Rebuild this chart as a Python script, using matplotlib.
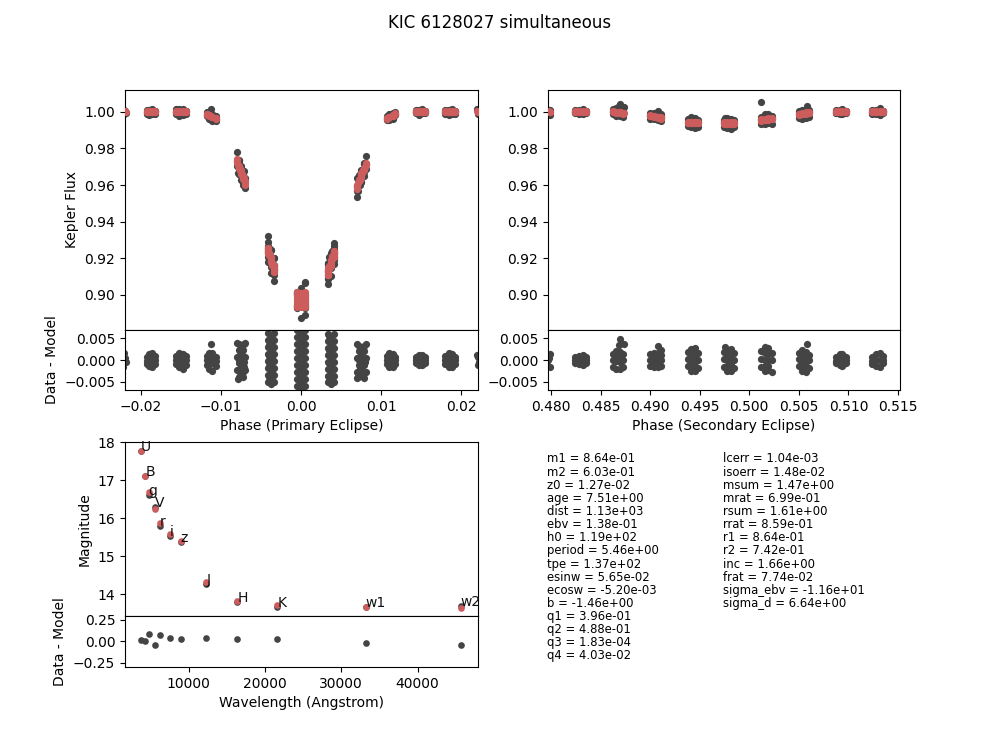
import numpy as np
import matplotlib
matplotlib.use('Agg')
import matplotlib.pyplot as plt

DARK = '#444444'
RED = '#cd5c5c'
MS = 5.2
MS_SED = 4.8

#######
# PRIMARY ECLIPSE - one row per orbit cycle position
#######
primary_phase = [
    -.0228, -.0224, -.0220, -.0222, -.0226, -.0219, -.0221,
    -.0193, -.0193, -.0193, -.0190, -.0190, -.0190, -.0190, -.0186, -.0186, -.0186, -.0186, -.0182, -.0182, -.0182,
    -.0156, -.0156, -.0156, -.0152, -.0152, -.0152, -.0152, -.0148, -.0148, -.0148, -.0148, -.0144, -.0144, -.0144,
    -.0118, -.0118, -.0118, -.0115, -.0115, -.0115, -.0115, -.0113, -.0111, -.0111, -.0111, -.0111, -.0106, -.0106, -.0106,
    -.0080, -.0070, -.0075, -.00775, -.00725, -.0075, -.0080, -.0070, -.0078, -.00775, -.00725, -.0072, -.0080, -.0070, -.0075, -.00775, -.00725, -.0079,
    -.0042, -.0034, -.0038, -.0042, -.0034, -.0038, -.0042, -.0034, -.0038, -.0042, -.0034, -.0038,
    -.0042, -.0034, -.0038, -.0042, -.0034, -.0038, -.0042, -.0034, -.0038, -.0042, -.0034, -.0038,
    -.0005, .0005, 0, -.0005, .0005, 0, -.0005, .0005, 0, -.0005, .0005, 0, -.0005, .0005, 0,
    -.0005, .0005, 0, -.0005, .0005, 0, -.0005, .0005, 0, -.0005, .0005, 0,
    .0033, .00415, .0037, .0033, .00415, .0037, .0033, .00415, .0037, .0033, .00415, .0037,
    .0033, .00415, .0037, .0033, .00415, .0037, .0033, .00415, .0037, .0033, .00415, .0037,
    .0081, .0069, .0075, .0078, .0072, .0075, .0081, .0069, .0079, .0078, .0072, .0073, .0081, .0069, .0075, .0078, .0069, .0071,
    .0107, .0107, .0107, .0110, .0110, .0110, .0110, .0114, .0114, .0114, .0114, .0117, .0117, .0117,
    .0143, .0143, .0143, .0147, .0147, .0147, .0147, .0151, .0151, .0151, .0151, .0155, .0155, .0155,
    .0180, .0180, .0180, .0184, .0184, .0184, .0184, .0188, .0188, .0188, .0188, .0192, .0192, .0192,
    .0219, .0221, .0223, .0225, .0220, .0222, .0226,
    -.0078, -.0072, -.0076, -.0074, -.0078, -.0072, -.0074, -.0076, -.0077, -.0073,
    .0072, .0078, .0074, .0076, .0072, .0078, .0076, .0074, .0073, .0077,
    -.0040, -.0036, -.0040, -.0036, -.0040, -.0036, -.0040, -.0036,
    .0035, .0039, .0035, .0039, .0035, .0039, .0035, .0039,
]
primary_model = [
    1.0003, .9998, 1.0003, .9997, 1.0, 1.0, .9997,
    1.0004, .9998, 1.0, .9998, 1.0004, 1.0, .9997, 1.0003, .9998, 1.0, 1.0004, .9997, 1.0003, 1.0,
    1.0004, .9998, 1.0, .9998, 1.0004, 1.0, .9997, 1.0003, .9998, 1.0, 1.0004, .9997, 1.0003, 1.0,
    .9991, .9985, .9988, .9983, .9980, .9985, .9981, .9979, .9972, .9975, .9970, .9973, .9969, .9964, .9966,
    .9740, .9600, .9670, .9705, .9635, .9680, .9722, .9620, .9695, .9695, .9645, .9630, .9730, .9610, .9660, .9700, .9640, .9712,
    .9258, .9141, .9192, .9243, .9156, .9207, .9228, .9126, .9177, .9250, .9148, .9199,
    .9235, .9133, .9185, .9258, .9156, .9207, .9243, .9141, .9192, .9228, .9126, .9177,
    .8931, .9003, .8951, .8951, .9013, .8992, .8972, .8931, .8935, .8992, .8962, .8972, .9013, .8992, .9010,
    .8941, .8941, .8962, .8962, .8972, .8982, .8982, .8982, .9003, .9003, .8951, .8941,
    .9108, .9222, .9174, .9126, .9204, .9156, .9144, .9240, .9192, .9118, .9214, .9165,
    .9136, .9232, .9183, .9108, .9222, .9174, .9126, .9204, .9192, .9108, .9240, .9156,
    .9722, .9600, .9656, .9695, .9620, .9666, .9712, .9590, .9700, .9685, .9630, .9635, .9716, .9595, .9650, .9690, .9578, .9610,
    .9968, .9963, .9965, .9972, .9975, .9970, .9973, .9982, .9979, .9984, .9980, .9990, .9987, .9992,
    1.0004, .9998, 1.0, .9998, 1.0004, 1.0, .9997, 1.0003, .9998, 1.0, 1.0004, .9997, 1.0003, 1.0,
    1.0004, .9998, 1.0, .9998, 1.0004, 1.0, .9997, 1.0003, .9998, 1.0, 1.0004, .9997, 1.0003, 1.0,
    1.0003, .9998, 1.0003, .9997, 1.0, 1.0, .9997,
    .9700, .9640, .9680, .9655, .9695, .9635, .9660, .9685, .9690, .9650,
    .9625, .9690, .9645, .9670, .9620, .9685, .9665, .9640, .9630, .9680,
    .9222, .9168, .9215, .9160, .9228, .9172, .9218, .9165,
    .9150, .9200, .9142, .9208, .9155, .9195, .9148, .9210,
]
primary_resid = [
    .0012, -.0011, .0004, -.0015, .0006, -.0004, .0015,
    .0008, -.0002, -.0010, .0014, .0005, -.0005, -.0014, .0015, .0005, -.0005, -.0016, .0009, 0, -.0009,
    .0010, 0, -.0010, .0017, .0006, -.0004, -.0017, .0014, .0004, -.0007, -.0021, .0009, .0001, -.0011,
    .0010, -.0001, -.0012, .0017, .0006, -.0006, -.0020, .0036, .0016, .0005, -.0007, -.0025, .0008, -.0002, -.0013,
    .0040, .0040, .0032, .0024, .0024, .0016, .0008, .0008, 0, -.0008, -.0008, -.0016, -.0024, -.0024, -.0032, -.0040, -.0040, -.0044,
    .0062, .0062, .0054, .0046, .0046, .0038, .0030, .0030, .0022, .0014, .0014, .0006,
    -.0002, -.0002, -.0010, -.0018, -.0018, -.0026, -.0034, -.0034, -.0042, -.0050, -.0050, -.0056,
    .0068, .0068, .0060, .0052, .0052, .0044, .0036, .0036, .0028, .0020, .0020, .0012, .0004, .0004, -.0004,
    -.0012, -.0012, -.0020, -.0028, -.0028, -.0036, -.0044, -.0044, -.0052, -.0060, -.0060, -.0068,
    .0060, .0060, .0052, .0044, .0044, .0036, .0028, .0028, .0020, .0012, .0012, .0004,
    -.0004, -.0004, -.0012, -.0020, -.0020, -.0028, -.0036, -.0036, -.0042, -.0050, -.0050, -.0055,
    .0036, .0036, .0028, .0020, .0020, .0012, .0004, .0004, -.0004, -.0012, -.0012, -.0020, -.0028, -.0028, -.0036, -.0042, -.0042, -.0040,
    .0009, 0, -.0010, .0015, .0005, -.0005, -.0016, .0014, .0004, -.0006, -.0017, .0008, -.0001, -.0010,
    .0008, 0, -.0008, .0011, .0004, -.0004, -.0012, .0011, .0003, -.0005, -.0012, .0007, 0, -.0008,
    .0009, 0, -.0009, .0015, .0005, -.0005, -.0016, .0014, .0004, -.0006, -.0017, .0008, 0, -.0010,
    .0012, -.0011, .0004, -.0012, .0007, -.0004, .0010,
    .0036, .0036, .0020, .0012, .0004, -.0004, -.0012, -.0020, -.0036, -.0028,
    .0032, .0032, .0016, .0008, 0, -.0004, -.0012, -.0024, -.0032, -.0032,
    .0034, .0026, .0010, .0002, -.0014, -.0022, -.0038, -.0046,
    .0056, .0040, .0024, .0008, -.0008, -.0024, -.0038, -.0046,
]

#######
# SECONDARY ECLIPSE
#######
secondary_phase = [
    .4794, .4796, .4798, .4799, .4797, .4795, .4799,
    .48245, .48245, .48245, .4828, .4828, .4828, .4832, .4832, .4832, .48355, .48355, .48355,
    .4863, .4863, .4863, .4866, .4866, .4866, .4866, .4870, .4870, .4870, .4870, .4873, .4873, .4873, .4870, .4869, .4874,
    .4900, .4900, .4900, .4904, .4904, .4904, .4904, .4908, .4908, .4908, .4908, .4911, .4911, .4911, .4908, .4911,
    .4938, .4938, .4938, .4941, .4941, .4941, .4941, .4941, .4945, .4945, .4945, .4945, .4945, .4948, .4948, .4948,
    .4975, .4975, .4975, .4978, .4978, .4978, .4978, .4978, .4982, .4982, .4982, .4982, .4982, .4985, .4985, .4985, .4976,
    .5012, .5012, .5012, .5016, .5016, .5016, .5016, .5016, .5019, .5019, .5019, .5019, .5019, .5023, .5023, .5023, .5012,
    .5050, .5050, .5050, .5053, .5053, .5053, .5053, .5053, .5057, .5057, .5057, .5057, .5057, .5060, .5060, .5060, .5058,
    .5087, .5087, .5087, .5091, .5091, .5091, .5094, .5094, .5094, .5098, .5098, .5098,
    .5124, .5124, .5124, .5128, .5128, .5128, .5132, .5132, .5132, .5135, .5135, .5135,
]
secondary_model = [
    1.0003, .9998, 1.0003, .9997, 1.0, 1.0, .9997,
    1.0004, .9998, 1.0, .9998, 1.0004, 1.0, 1.0003, .9997, 1.0, .9998, 1.0003, 1.0,
    1.0003, .9999, 1.0006, .9999, 1.0002, .9996, 1.0, .9997, 1.0, .9994, .9998, .9993, .9996, .9990, .9995, .9996, .9993,
    .9979, .9982, .9976, .9975, .9978, .9972, .9976, .9971, .9974, .9968, .9972, .9967, .9970, .9964, .9971, .9967,
    .9942, .9947, .9937, .9945, .9940, .9947, .9937, .9942, .9938, .9945, .9942, .9947, .9937, .9942, .9947, .9937,
    .9938, .9943, .9933, .9941, .9936, .9943, .9933, .9938, .9934, .9941, .9938, .9943, .9933, .9938, .9943, .9933, .9938,
    .9955, .9959, .9951, .9958, .9954, .9962, .9955, .9958, .9961, .9965, .9957, .9961, .9963, .9964, .9968, .9960, .9958,
    .9986, .9990, .9982, .9990, .9986, .9994, .9987, .9990, .9993, .9997, .9989, .9993, .9995, .9996, 1.0, .9992, .9993,
    1.0004, .9998, 1.0, .9998, 1.0004, 1.0, 1.0003, .9997, 1.0, .9998, 1.0003, 1.0,
    1.0004, .9998, 1.0, .9998, 1.0004, 1.0, 1.0003, .9997, 1.0, .9998, 1.0003, 1.0,
]
secondary_resid = [
    .0012, -.0012, .0005, -.0015, 0, .0003, .0014,
    .0006, -.0001, -.0007, .0010, .0001, -.0010, .0011, 0, -.0011, .0007, 0, -.0006,
    .0014, 0, -.0016, .0020, .0010, -.0002, -.0020, .0019, .0008, -.0004, -.0020, .0013, 0, -.0015, .0048, .0035, .0036,
    .0014, .0001, -.0013, .0017, .0007, -.0004, -.0017, .0015, .0005, -.0006, -.0017, .0012, 0, -.0014, .0032, .0022,
    .0018, .0003, -.0014, .0026, .0013, 0, -.0013, -.0026, .0027, .0013, 0, -.0013, -.0025, .0016, 0, -.0018,
    .0018, .0003, -.0016, .0024, .0012, 0, -.0013, -.0025, .0025, .0012, 0, -.0012, -.0025, .0016, 0, -.0018, .0029,
    .0020, .0003, -.0015, .0030, .0015, 0, -.0013, -.0025, .0028, .0014, 0, -.0014, -.0024, .0016, 0, -.0028, .0097,
    .0017, .0002, -.0014, .0022, .0011, 0, -.0013, -.0026, .0018, .0008, -.0004, -.0015, -.0028, .0012, 0, -.0018, .0037,
    .0006, -.0002, -.0008, .0013, .0001, -.0012, .0014, 0, -.0014, .0008, 0, -.0007,
    .0007, -.0002, -.0009, .0014, .0001, -.0013, .0016, 0, -.0016, .0009, 0, -.0008,
]

#######
# BROADBAND PHOTOMETRY
#######
bands = ['U', 'B', 'g', 'V', 'r', 'i', 'z', 'J', 'H', 'K', 'w1', 'w2']
wavelength = [3755, 4322, 4760, 5546, 6200, 7560, 8960, 12320, 16380, 21620, 33220, 45650]
mag_model = [17.77, 17.11, 16.69, 16.25, 15.87, 15.58, 15.40, 14.31, 13.82, 13.70, 13.65, 13.64]
mag_data = [17.76, 17.11, 16.60, 16.29, 15.80, 15.54, 15.37, 14.27, 13.79, 13.67, 13.67, 13.68]
mag_resid = [.015, 0, .09, -.04, .07, .04, .03, .04, .03, .03, -.02, -.04]

#######
# FIT PARAMETERS
#######
params_left = ['m1 = 8.64e-01', 'm2 = 6.03e-01', 'z0 = 1.27e-02', 'age = 7.51e+00',
               'dist = 1.13e+03', 'ebv = 1.38e-01', 'h0 = 1.19e+02', 'period = 5.46e+00',
               'tpe = 1.37e+02', 'esinw = 5.65e-02', 'ecosw = -5.20e-03', 'b = -1.46e+00',
               'q1 = 3.96e-01', 'q2 = 4.88e-01', 'q3 = 1.83e-04', 'q4 = 4.03e-02']
params_right = ['lcerr = 1.04e-03', 'isoerr = 1.48e-02', 'msum = 1.47e+00', 'mrat = 6.99e-01',
                'rsum = 1.61e+00', 'rrat = 8.59e-01', 'r1 = 8.64e-01', 'r2 = 7.42e-01',
                'inc = 1.66e+00', 'frat = 7.74e-02', 'sigma_ebv = -1.16e+01', 'sigma_d = 6.64e+00']

W, H = 1000.0, 750.0


def add_axes_px(left, right, top, bottom):
    return fig.add_axes([left / W, 1 - bottom / H, (right - left) / W, (bottom - top) / H])


def lc_panel(top_ax, res_ax, phase, model, resid):
    phase = np.array(phase)
    model = np.array(model)
    resid = np.array(resid)
    flux = model + resid
    top_ax.errorbar(phase, flux, yerr=0.0008, fmt='none', ecolor='lightgray', lw=0.8, zorder=1)
    top_ax.plot(phase, flux, 'o', color=DARK, ms=MS, mew=0, zorder=2)
    top_ax.plot(phase, model, 'o', color=RED, ms=MS, mew=0, zorder=3)
    res_ax.errorbar(phase, resid, yerr=0.0008, fmt='none', ecolor='lightgray', lw=0.8, zorder=1)
    res_ax.plot(phase, resid, 'o', color=DARK, ms=MS, mew=0, zorder=2)
    top_ax.set_ylim(0.8807, 1.012)
    res_ax.set_ylim(-0.0069, 0.0069)
    top_ax.set_xticks([])
    top_ax.set_yticks([0.90, 0.92, 0.94, 0.96, 0.98, 1.00])
    top_ax.set_yticklabels(['0.90', '0.92', '0.94', '0.96', '0.98', '1.00'])
    res_ax.set_yticks([-0.005, 0, 0.005])
    res_ax.set_yticklabels(['\u22120.005', '0.000', '0.005'])


fig = plt.figure(figsize=(10, 7.5), dpi=100)
fig.suptitle('KIC 6128027 simultaneous', fontsize=12, x=0.5, y=0.982, va='top')

# primary eclipse
ax1 = add_axes_px(125, 477.5, 90, 330)
ax1r = add_axes_px(125, 477.5, 330, 390)
lc_panel(ax1, ax1r, primary_phase, primary_model, primary_resid)
ax1.set_xlim(-0.022, 0.022)
ax1r.set_xlim(-0.022, 0.022)
ax1r.set_xticks([-0.02, -0.01, 0, 0.01, 0.02])
ax1r.set_xticklabels(['\u22120.02', '\u22120.01', '0.00', '0.01', '0.02'])
ax1.set_ylabel('Kepler Flux')
ax1r.set_ylabel('Data - Model')
ax1r.set_xlabel('Phase (Primary Eclipse)')

# secondary eclipse
ax2 = add_axes_px(548, 900, 90, 330)
ax2r = add_axes_px(548, 900, 330, 390)
lc_panel(ax2, ax2r, secondary_phase, secondary_model, secondary_resid)
ax2.set_xlim(0.4797, 0.5152)
ax2r.set_xlim(0.4797, 0.5152)
ax2r.set_xticks([0.480, 0.485, 0.490, 0.495, 0.500, 0.505, 0.510, 0.515])
ax2r.set_xticklabels(['0.480', '0.485', '0.490', '0.495', '0.500', '0.505', '0.510', '0.515'])
ax2r.set_xlabel('Phase (Secondary Eclipse)')

# photometry
ax3 = add_axes_px(125, 477.5, 442, 615.7)
ax3r = add_axes_px(125, 477.5, 615.7, 667)
ax3.plot(wavelength, mag_data, 'o', color=DARK, ms=MS_SED, mew=0, zorder=2)
ax3.plot(wavelength, mag_model, 'o', color=RED, ms=MS_SED, mew=0, zorder=3)
for band, wl, mag in zip(bands, wavelength, mag_data):
    ax3.text(wl, mag, band, fontsize=10, color='#111111', zorder=4)
ax3r.plot(wavelength, mag_resid, 'o', color=DARK, ms=MS_SED, mew=0)
ax3.set_xlim(1655, 47860)
ax3r.set_xlim(1655, 47860)
ax3.set_ylim(13.43, 18)
ax3r.set_ylim(-0.3, 0.3)
ax3.set_xticks([])
ax3.set_yticks([14, 15, 16, 17, 18])
ax3r.set_xticks([10000, 20000, 30000, 40000])
ax3r.set_yticks([-0.25, 0, 0.25])
ax3r.set_yticklabels(['\u22120.25', '0.00', '0.25'])
ax3.set_ylabel('Magnitude')
ax3r.set_ylabel('Data - Model')
ax3r.set_xlabel('Wavelength (Angstrom)')

# parameter columns
for i, line in enumerate(params_left):
    fig.text(547 / W, 1 - (459 + i * 13.13) / H, line, fontsize=8.35, va='center')
for i, line in enumerate(params_right):
    fig.text(723 / W, 1 - (459 + i * 13.13) / H, line, fontsize=8.35, va='center')

fig.savefig('out.png', dpi=100)
